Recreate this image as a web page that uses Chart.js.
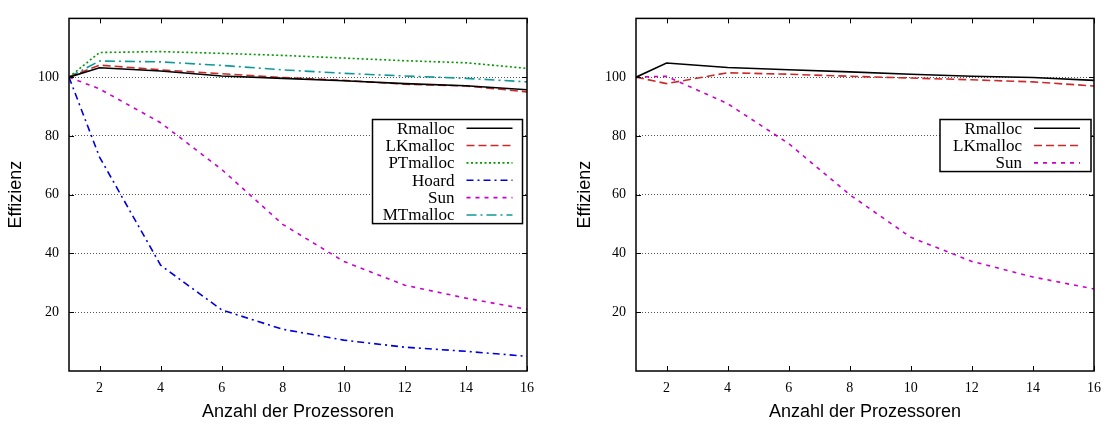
<!DOCTYPE html>
<html>
<head>
<meta charset="utf-8">
<script src="https://cdn.jsdelivr.net/npm/chart.js@4.4.1/dist/chart.umd.min.js"></script>
<style>
  html, body { margin: 0; padding: 0; background: #fff; }
  .wrap { display: flex; width: 1110px; height: 425px; }
  .box { position: relative; width: 555px; height: 425px; }
</style>
</head>
<body>
<div class="wrap">
  <div class="box"><canvas id="left"></canvas></div>
  <div class="box"><canvas id="right"></canvas></div>
</div>
<script>
// processor counts (x) and axis ticks
const processors = [1, 2, 4, 6, 8, 10, 12, 14, 16]
const xTicks = [2, 4, 6, 8, 10, 12, 14, 16]
const yTicks = [20, 40, 60, 80, 100]

// left plot
const rmallocA = [100, 103.2, 102.1, 100.4, 99.6, 98.8, 97.8, 97.1, 95.7]
const lkmallocA = [100, 104.1, 102.5, 101.2, 99.9, 98.9, 97.6, 97.0, 95.0]
const ptmallocA = [100, 108.4, 108.7, 108.1, 107.4, 106.5, 105.6, 104.9, 103.0]
const hoardA = [100, 72.8, 36.0, 20.8, 14.2, 10.5, 8.1, 6.7, 5.0]
const sunA = [100, 96.0, 84.5, 68.6, 49.9, 37.3, 29.2, 24.8, 21.0]
const mtmallocA = [100, 105.5, 105.2, 104.0, 102.5, 101.3, 100.4, 99.6, 98.4]

// right plot
const rmallocB = [100, 104.8, 103.3, 102.5, 101.8, 101.0, 100.3, 99.9, 98.9]
const lkmallocB = [100, 97.8, 101.5, 101.0, 100.3, 99.7, 99.1, 98.4, 97.0]
const sunB = [100, 100.3, 91.0, 77.4, 60.0, 45.5, 37.3, 32.0, 27.9]

const styles = {
  Rmalloc: { color: '#000000', dash: [] },
  LKmalloc: { color: '#cc2a2a', dash: [8, 4] },
  PTmalloc: { color: '#009900', dash: [2, 2.5] },
  Hoard: { color: '#0000dd', dash: [7, 4, 2, 4] },
  Sun: { color: '#cc00cc', dash: [4, 5] },
  MTmalloc: { color: '#109999', dash: [10, 4, 2, 4] }
}

const serif = { family: 'Liberation Serif', size: 14 }
const sans = { family: 'Liberation Sans', size: 18 }

const series = (label, values) => ({
  label,
  data: values.map((y, i) => ({ x: processors[i], y })),
  borderColor: styles[label].color,
  borderDash: styles[label].dash,
  borderWidth: 1.6,
  pointRadius: 0,
  fill: false,
  tension: 0
})

// frame + gnuplot style inner tics
const frame = {
  id: 'frame',
  afterDatasetsDraw (chart) {
    const { ctx, chartArea: a, scales: { x, y } } = chart
    ctx.save()
    ctx.strokeStyle = '#000'
    ctx.lineWidth = 1
    ctx.setLineDash([])
    ctx.beginPath()
    x.ticks.forEach(t => {
      const px = Math.round(x.getPixelForValue(t.value)) + 0.5
      ctx.moveTo(px, a.bottom); ctx.lineTo(px, a.bottom - 5)
      ctx.moveTo(px, a.top); ctx.lineTo(px, a.top + 5)
    })
    y.ticks.forEach(t => {
      const py = Math.round(y.getPixelForValue(t.value)) + 0.5
      ctx.moveTo(a.left, py); ctx.lineTo(a.left + 5, py)
      ctx.moveTo(a.right, py); ctx.lineTo(a.right - 5, py)
    })
    ctx.stroke()
    ctx.lineWidth = 1.5
    ctx.strokeRect(a.left, a.top, a.right - a.left, a.bottom - a.top)
    ctx.restore()
  }
}

// legend box inside the plot, text right-aligned, sample on the right
const keyBox = {
  id: 'keyBox',
  afterDatasetsDraw (chart, args, opts) {
    const { ctx, chartArea: a } = chart
    const sets = chart.data.datasets
    const rowH = 17.35
    const w = opts.width
    const h = sets.length * rowH
    const left = a.right - opts.right - w
    const top = opts.top
    ctx.save()
    ctx.fillStyle = '#fff'
    ctx.fillRect(left, top, w, h)
    ctx.lineWidth = 1.5
    ctx.strokeStyle = '#000'
    ctx.strokeRect(left, top, w, h)
    ctx.font = '17px "Liberation Serif"'
    ctx.textAlign = 'right'
    ctx.textBaseline = 'middle'
    sets.forEach((ds, i) => {
      const cy = top + (i + 0.5) * rowH
      ctx.fillStyle = '#000'
      ctx.fillText(ds.label, left + 82, cy + 1)
      ctx.strokeStyle = ds.borderColor
      ctx.lineWidth = ds.borderWidth
      ctx.setLineDash(ds.borderDash)
      ctx.beginPath()
      ctx.moveTo(left + 94, cy)
      ctx.lineTo(left + 140, cy)
      ctx.stroke()
    })
    ctx.restore()
  }
}

function options (padLeft, yWidth, padRight, key) {
  return {
    responsive: true,
    maintainAspectRatio: false,
    animation: false,
    layout: { padding: { left: padLeft, right: padRight, top: 7, bottom: 0 } },
    plugins: {
      legend: { display: false },
      tooltip: { enabled: false },
      keyBox: key
    },
    scales: {
      x: {
        type: 'linear',
        min: 1,
        max: 16,
        afterBuildTicks: s => { s.ticks = xTicks.map(value => ({ value })) },
        afterFit: s => { s.height = 54 },
        grid: { display: false, drawTicks: false },
        border: { display: false },
        ticks: { padding: 9, font: serif, color: '#000', maxRotation: 0, autoSkip: false },
        title: { display: true, text: 'Anzahl der Prozessoren', font: sans, color: '#000', padding: { top: 0, bottom: 2 } }
      },
      y: {
        type: 'linear',
        min: 0,
        max: 120,
        afterBuildTicks: s => { s.ticks = yTicks.map(value => ({ value })) },
        afterFit: s => { s.width = yWidth },
        grid: { color: '#555', lineWidth: 1, drawTicks: false },
        border: { display: false, dash: [1, 2] },
        ticks: { padding: 10, font: serif, color: '#000' },
        title: { display: true, text: 'Effizienz', font: sans, color: '#000', padding: { top: 5, bottom: 0 } }
      }
    }
  }
}

new Chart(document.getElementById('left'), {
  type: 'line',
  data: {
    datasets: [
      series('Rmalloc', rmallocA),
      series('LKmalloc', lkmallocA),
      series('PTmalloc', ptmallocA),
      series('Hoard', hoardA),
      series('Sun', sunA),
      series('MTmalloc', mtmallocA)
    ]
  },
  options: options(0, 69, 28, { width: 150, right: 4.5, top: 119.5 }),
  plugins: [frame, keyBox]
})

new Chart(document.getElementById('right'), {
  type: 'line',
  data: {
    datasets: [
      series('Rmalloc', rmallocB),
      series('LKmalloc', lkmallocB),
      series('Sun', sunB)
    ]
  },
  options: options(14, 67, 16, { width: 151, right: 3, top: 119.5 }),
  plugins: [frame, keyBox]
})
</script>
</body>
</html>
